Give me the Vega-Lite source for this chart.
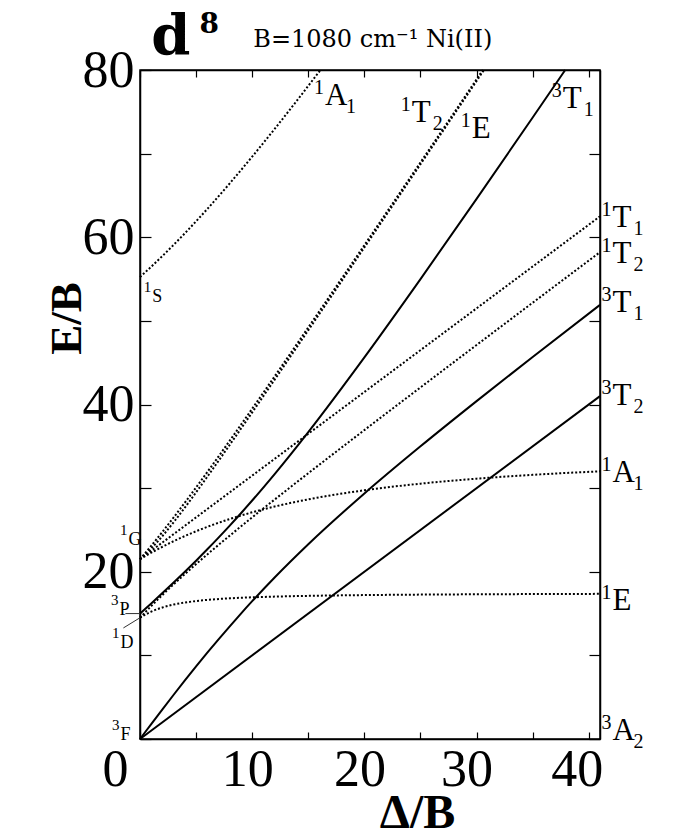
{
  "$schema": "https://vega.github.io/schema/vega-lite/v6.json",
  "width": 460,
  "height": 669,
  "autosize": {"type": "none"},
  "padding": {"left": 140, "top": 70, "right": 79, "bottom": 100},
  "background": "white",
  "config": {
    "font": "Liberation Serif",
    "view": {"stroke": "black", "strokeWidth": 1.5},
    "axis": {"domainColor": "black", "domainWidth": 1.5, "tickColor": "black", "tickWidth": 1.2, "grid": false, "labelColor": "black", "titleColor": "black", "labelFont": "Liberation Serif", "titleFont": "Liberation Serif"}
  },
  "datasets": {
    "curves": [
      {"state": "3T2", "m": 3, "x": 0, "y": 0}, {"state": "3T2", "m": 3, "x": 41, "y": 41},
      {"state": "3T1a", "m": 3, "x": 0, "y": 0}, {"state": "3T1a", "m": 3, "x": 0.5, "y": 0.897}, {"state": "3T1a", "m": 3, "x": 1, "y": 1.789}, {"state": "3T1a", "m": 3, "x": 2, "y": 3.554}, {"state": "3T1a", "m": 3, "x": 3, "y": 5.292}, {"state": "3T1a", "m": 3, "x": 4, "y": 7}, {"state": "3T1a", "m": 3, "x": 5, "y": 8.676}, {"state": "3T1a", "m": 3, "x": 6, "y": 10.315}, {"state": "3T1a", "m": 3, "x": 7, "y": 11.917}, {"state": "3T1a", "m": 3, "x": 8, "y": 13.479}, {"state": "3T1a", "m": 3, "x": 9, "y": 15}, {"state": "3T1a", "m": 3, "x": 10, "y": 16.479}, {"state": "3T1a", "m": 3, "x": 12, "y": 19.315}, {"state": "3T1a", "m": 3, "x": 15, "y": 23.292}, {"state": "3T1a", "m": 3, "x": 20, "y": 29.361}, {"state": "3T1a", "m": 3, "x": 25, "y": 35}, {"state": "3T1a", "m": 3, "x": 30, "y": 40.407}, {"state": "3T1a", "m": 3, "x": 35, "y": 45.682}, {"state": "3T1a", "m": 3, "x": 41, "y": 51.912},
      {"state": "3T1b", "m": 3, "x": 0, "y": 15}, {"state": "3T1b", "m": 3, "x": 0.5, "y": 15.603}, {"state": "3T1b", "m": 3, "x": 1, "y": 16.211}, {"state": "3T1b", "m": 3, "x": 2, "y": 17.446}, {"state": "3T1b", "m": 3, "x": 3, "y": 18.708}, {"state": "3T1b", "m": 3, "x": 4, "y": 20}, {"state": "3T1b", "m": 3, "x": 5, "y": 21.325}, {"state": "3T1b", "m": 3, "x": 6, "y": 22.685}, {"state": "3T1b", "m": 3, "x": 7, "y": 24.083}, {"state": "3T1b", "m": 3, "x": 8, "y": 25.521}, {"state": "3T1b", "m": 3, "x": 9, "y": 27}, {"state": "3T1b", "m": 3, "x": 10, "y": 28.521}, {"state": "3T1b", "m": 3, "x": 12, "y": 31.685}, {"state": "3T1b", "m": 3, "x": 15, "y": 36.708}, {"state": "3T1b", "m": 3, "x": 20, "y": 45.64}, {"state": "3T1b", "m": 3, "x": 25, "y": 55}, {"state": "3T1b", "m": 3, "x": 30, "y": 64.593}, {"state": "3T1b", "m": 3, "x": 35, "y": 74.318}, {"state": "3T1b", "m": 3, "x": 37.9, "y": 80},
      {"state": "1Ea", "m": 1, "x": 0, "y": 14.5}, {"state": "1Ea", "m": 1, "x": 0.5, "y": 14.894}, {"state": "1Ea", "m": 1, "x": 1, "y": 15.225}, {"state": "1Ea", "m": 1, "x": 2, "y": 15.728}, {"state": "1Ea", "m": 1, "x": 3, "y": 16.076}, {"state": "1Ea", "m": 1, "x": 4, "y": 16.321}, {"state": "1Ea", "m": 1, "x": 5, "y": 16.5}, {"state": "1Ea", "m": 1, "x": 6, "y": 16.635}, {"state": "1Ea", "m": 1, "x": 8, "y": 16.821}, {"state": "1Ea", "m": 1, "x": 10, "y": 16.943}, {"state": "1Ea", "m": 1, "x": 12, "y": 17.029}, {"state": "1Ea", "m": 1, "x": 15, "y": 17.117}, {"state": "1Ea", "m": 1, "x": 20, "y": 17.209}, {"state": "1Ea", "m": 1, "x": 25, "y": 17.266}, {"state": "1Ea", "m": 1, "x": 30, "y": 17.304}, {"state": "1Ea", "m": 1, "x": 35, "y": 17.331}, {"state": "1Ea", "m": 1, "x": 41, "y": 17.356},
      {"state": "1Eb", "m": 1, "x": 0, "y": 21.5}, {"state": "1Eb", "m": 1, "x": 1, "y": 22.775}, {"state": "1Eb", "m": 1, "x": 2, "y": 24.272}, {"state": "1Eb", "m": 1, "x": 3, "y": 25.924}, {"state": "1Eb", "m": 1, "x": 4, "y": 27.679}, {"state": "1Eb", "m": 1, "x": 5, "y": 29.5}, {"state": "1Eb", "m": 1, "x": 6, "y": 31.365}, {"state": "1Eb", "m": 1, "x": 8, "y": 35.179}, {"state": "1Eb", "m": 1, "x": 10, "y": 39.057}, {"state": "1Eb", "m": 1, "x": 12, "y": 42.971}, {"state": "1Eb", "m": 1, "x": 15, "y": 48.883}, {"state": "1Eb", "m": 1, "x": 20, "y": 58.791}, {"state": "1Eb", "m": 1, "x": 25, "y": 68.734}, {"state": "1Eb", "m": 1, "x": 30, "y": 78.696}, {"state": "1Eb", "m": 1, "x": 30.65, "y": 80},
      {"state": "1T2a", "m": 1, "x": 0, "y": 14.5}, {"state": "1T2a", "m": 1, "x": 0.5, "y": 15.206}, {"state": "1T2a", "m": 1, "x": 1, "y": 15.894}, {"state": "1T2a", "m": 1, "x": 2, "y": 17.225}, {"state": "1T2a", "m": 1, "x": 3, "y": 18.5}, {"state": "1T2a", "m": 1, "x": 4, "y": 19.728}, {"state": "1T2a", "m": 1, "x": 5, "y": 20.917}, {"state": "1T2a", "m": 1, "x": 6, "y": 22.076}, {"state": "1T2a", "m": 1, "x": 8, "y": 24.321}, {"state": "1T2a", "m": 1, "x": 10, "y": 26.5}, {"state": "1T2a", "m": 1, "x": 12, "y": 28.635}, {"state": "1T2a", "m": 1, "x": 15, "y": 31.782}, {"state": "1T2a", "m": 1, "x": 20, "y": 36.943}, {"state": "1T2a", "m": 1, "x": 25, "y": 42.046}, {"state": "1T2a", "m": 1, "x": 30, "y": 47.117}, {"state": "1T2a", "m": 1, "x": 35, "y": 52.17}, {"state": "1T2a", "m": 1, "x": 41, "y": 58.216},
      {"state": "1T2b", "m": 1, "x": 0, "y": 21.5}, {"state": "1T2b", "m": 1, "x": 1, "y": 23.106}, {"state": "1T2b", "m": 1, "x": 2, "y": 24.775}, {"state": "1T2b", "m": 1, "x": 3, "y": 26.5}, {"state": "1T2b", "m": 1, "x": 4, "y": 28.272}, {"state": "1T2b", "m": 1, "x": 5, "y": 30.083}, {"state": "1T2b", "m": 1, "x": 6, "y": 31.924}, {"state": "1T2b", "m": 1, "x": 8, "y": 35.679}, {"state": "1T2b", "m": 1, "x": 10, "y": 39.5}, {"state": "1T2b", "m": 1, "x": 12, "y": 43.365}, {"state": "1T2b", "m": 1, "x": 15, "y": 49.218}, {"state": "1T2b", "m": 1, "x": 20, "y": 59.057}, {"state": "1T2b", "m": 1, "x": 25, "y": 68.954}, {"state": "1T2b", "m": 1, "x": 30, "y": 78.883}, {"state": "1T2b", "m": 1, "x": 30.56, "y": 80},
      {"state": "1T1", "m": 1, "x": 0, "y": 21.5}, {"state": "1T1", "m": 1, "x": 41, "y": 62.5},
      {"state": "1A1a", "m": 1, "x": 0, "y": 21.5}, {"state": "1A1a", "m": 1, "x": 0.5, "y": 21.893}, {"state": "1A1a", "m": 1, "x": 1, "y": 22.272}, {"state": "1A1a", "m": 1, "x": 2, "y": 22.989}, {"state": "1A1a", "m": 1, "x": 3, "y": 23.654}, {"state": "1A1a", "m": 1, "x": 4, "y": 24.271}, {"state": "1A1a", "m": 1, "x": 5, "y": 24.841}, {"state": "1A1a", "m": 1, "x": 6, "y": 25.368}, {"state": "1A1a", "m": 1, "x": 8, "y": 26.306}, {"state": "1A1a", "m": 1, "x": 10, "y": 27.108}, {"state": "1A1a", "m": 1, "x": 12, "y": 27.797}, {"state": "1A1a", "m": 1, "x": 15, "y": 28.656}, {"state": "1A1a", "m": 1, "x": 20, "y": 29.743}, {"state": "1A1a", "m": 1, "x": 25, "y": 30.534}, {"state": "1A1a", "m": 1, "x": 30, "y": 31.129}, {"state": "1A1a", "m": 1, "x": 35, "y": 31.59}, {"state": "1A1a", "m": 1, "x": 41, "y": 32.009},
      {"state": "1A1b", "m": 1, "x": 0, "y": 55.25}, {"state": "1A1b", "m": 1, "x": 1, "y": 56.478}, {"state": "1A1b", "m": 1, "x": 2, "y": 57.761}, {"state": "1A1b", "m": 1, "x": 3, "y": 59.096}, {"state": "1A1b", "m": 1, "x": 4, "y": 60.479}, {"state": "1A1b", "m": 1, "x": 5, "y": 61.909}, {"state": "1A1b", "m": 1, "x": 6, "y": 63.382}, {"state": "1A1b", "m": 1, "x": 8, "y": 66.444}, {"state": "1A1b", "m": 1, "x": 10, "y": 69.642}, {"state": "1A1b", "m": 1, "x": 12, "y": 72.953}, {"state": "1A1b", "m": 1, "x": 14, "y": 76.36}, {"state": "1A1b", "m": 1, "x": 16, "y": 79.846}, {"state": "1A1b", "m": 1, "x": 16.09, "y": 80}
    ],
    "labels": [
      {"main": "T", "sup": "1", "sub": "1", "x": 42.12, "y": 61.24, "g": "big"},
      {"main": "T", "sup": "1", "sub": "2", "x": 42.12, "y": 56.94, "g": "big"},
      {"main": "T", "sup": "3", "sub": "1", "x": 42.12, "y": 51.08, "g": "big"},
      {"main": "T", "sup": "3", "sub": "2", "x": 42.12, "y": 39.95, "g": "big"},
      {"main": "A", "sup": "1", "sub": "1", "x": 42.12, "y": 30.74, "g": "big"},
      {"main": "E", "sup": "1", "sub": "", "x": 42.12, "y": 15.43, "g": "big"},
      {"main": "A", "sup": "3", "sub": "2", "x": 42.12, "y": -0.12, "g": "big"},
      {"main": "A", "sup": "1", "sub": "1", "x": 16.49, "y": 75.84, "g": "big"},
      {"main": "T", "sup": "1", "sub": "2", "x": 24.23, "y": 73.8, "g": "big"},
      {"main": "E", "sup": "1", "sub": "", "x": 29.57, "y": 71.89, "g": "big"},
      {"main": "T", "sup": "3", "sub": "1", "x": 37.67, "y": 75.48, "g": "big"},
      {"main": "F", "sup": "3", "sub": "", "x": -1.74, "y": -0.12, "g": "small"},
      {"main": "P", "sup": "3", "sub": "", "x": -1.83, "y": 14.83, "g": "small"},
      {"main": "D", "sup": "1", "sub": "", "x": -1.74, "y": 10.89, "g": "small"},
      {"main": "G", "sup": "1", "sub": "", "x": -1.03, "y": 23.21, "g": "small"},
      {"main": "S", "sup": "1", "sub": "", "x": 1.1, "y": 52.27, "g": "small"}
    ],
    "conn": [
      {"id": "P", "x": -1.3, "y": 15}, {"id": "P", "x": 0, "y": 15},
      {"id": "D", "x": -1.48, "y": 13.28}, {"id": "D", "x": 0, "y": 14.5}
    ],
    "heads": [
      {"t": "d", "k": "d", "x": 1.0, "y": 81.8},
      {"t": "8", "k": "8", "x": 5.3, "y": 84.45},
      {"t": "B=1080 cm⁻¹ Ni(II)", "k": "B", "x": 10.1, "y": 82.78}
    ]
  },
  "layer": [
    {
      "data": {"name": "curves"},
      "transform": [{"filter": "datum.m == 3"}],
      "mark": {"type": "line", "color": "black", "strokeWidth": 2, "interpolate": "monotone"},
      "encoding": {
        "x": {"field": "x", "type": "quantitative", "scale": {"domain": [0, 41], "nice": false},
          "axis": {"orient": "bottom", "values": [0, 5, 10, 15, 20, 25, 30, 35, 40], "labelExpr": "datum.value % 10 == 0 ? datum.label : ''", "tickSize": -7, "labelPadding": 12, "labelFontSize": 52, "labelFlush": false, "labelOverlap": false,
            "labelOffset": {"condition": [{"test": "datum.value == 0", "value": -25}, {"test": "datum.value == 30", "value": -10}, {"test": "datum.value == 40", "value": -12}], "value": -5},
            "title": "Δ/B", "titleFontSize": 48, "titleFontWeight": "bold", "titleX": 277, "titleY": 88, "titleAlign": "center", "titleBaseline": "alphabetic"}},
        "y": {"field": "y", "type": "quantitative", "scale": {"domain": [0, 80], "nice": false},
          "axis": {"orient": "left", "values": [0, 10, 20, 30, 40, 50, 60, 70, 80], "labelExpr": "datum.value > 0 && datum.value % 20 == 0 ? datum.label : ''", "tickSize": -11, "labelPadding": 17, "labelFontSize": 52, "labelBaseline": "middle", "labelFlush": false, "labelOverlap": false, "title": "E/B", "titleFontSize": 45, "titleFontWeight": "bold", "titleAngle": -90, "titleX": -60, "titleY": 248, "titleAlign": "center", "titleBaseline": "alphabetic"}},
        "detail": {"field": "state"}
      }
    },
    {
      "data": {"name": "curves"},
      "transform": [{"filter": "datum.m == 1"}],
      "mark": {"type": "line", "color": "black", "strokeWidth": 2, "strokeDash": [2, 2], "interpolate": "monotone"},
      "encoding": {
        "x": {"field": "x", "type": "quantitative", "axis": {"orient": "top", "values": [0, 5, 10, 15, 20, 25, 30, 35, 40], "labels": false, "tickSize": -7, "title": null}},
        "y": {"field": "y", "type": "quantitative", "axis": {"orient": "right", "values": [0, 10, 20, 30, 40, 50, 60, 70, 80], "labels": false, "tickSize": -11, "title": null}},
        "detail": {"field": "state"}
      }
    },
    {
      "data": {"name": "conn"},
      "mark": {"type": "line", "color": "#333333", "strokeWidth": 1},
      "encoding": {
        "x": {"field": "x", "type": "quantitative", "axis": null},
        "y": {"field": "y", "type": "quantitative", "axis": null},
        "detail": {"field": "id"}
      }
    },
    {
      "data": {"name": "labels"},
      "transform": [{"filter": "datum.g == 'big'"}],
      "mark": {"type": "text", "align": "left", "baseline": "alphabetic", "fontSize": 31, "font": "Liberation Serif", "color": "black"},
      "encoding": {"x": {"field": "x", "type": "quantitative", "axis": null}, "y": {"field": "y", "type": "quantitative", "axis": null}, "text": {"field": "main"}}
    },
    {
      "data": {"name": "labels"},
      "transform": [{"filter": "datum.g == 'big'"}],
      "mark": {"type": "text", "align": "right", "baseline": "alphabetic", "fontSize": 20, "dx": -1, "dy": -11, "font": "Liberation Serif", "color": "black"},
      "encoding": {"x": {"field": "x", "type": "quantitative", "axis": null}, "y": {"field": "y", "type": "quantitative", "axis": null}, "text": {"field": "sup"}}
    },
    {
      "data": {"name": "labels"},
      "transform": [{"filter": "datum.g == 'big'"}],
      "mark": {"type": "text", "align": "left", "baseline": "alphabetic", "fontSize": 20, "dx": 21, "dy": 8, "font": "Liberation Serif", "color": "black"},
      "encoding": {"x": {"field": "x", "type": "quantitative", "axis": null}, "y": {"field": "y", "type": "quantitative", "axis": null}, "text": {"field": "sub"}}
    },
    {
      "data": {"name": "labels"},
      "transform": [{"filter": "datum.g == 'small'"}],
      "mark": {"type": "text", "align": "left", "baseline": "alphabetic", "fontSize": 18, "font": "Liberation Serif", "color": "black"},
      "encoding": {"x": {"field": "x", "type": "quantitative", "axis": null}, "y": {"field": "y", "type": "quantitative", "axis": null}, "text": {"field": "main"}}
    },
    {
      "data": {"name": "labels"},
      "transform": [{"filter": "datum.g == 'small'"}],
      "mark": {"type": "text", "align": "right", "baseline": "alphabetic", "fontSize": 15, "dx": -1, "dy": -10, "font": "Liberation Serif", "color": "black"},
      "encoding": {"x": {"field": "x", "type": "quantitative", "axis": null}, "y": {"field": "y", "type": "quantitative", "axis": null}, "text": {"field": "sup"}}
    },
    {
      "data": {"name": "heads"},
      "transform": [{"filter": "datum.k == 'd'"}],
      "mark": {"type": "text", "align": "left", "baseline": "alphabetic", "fontSize": 56, "fontWeight": "bold", "font": "DejaVu Serif", "color": "black"},
      "encoding": {"x": {"field": "x", "type": "quantitative", "axis": null}, "y": {"field": "y", "type": "quantitative", "axis": null}, "text": {"field": "t"}}
    },
    {
      "data": {"name": "heads"},
      "transform": [{"filter": "datum.k == '8'"}],
      "mark": {"type": "text", "align": "left", "baseline": "alphabetic", "fontSize": 28, "fontWeight": "bold", "font": "DejaVu Serif", "color": "black"},
      "encoding": {"x": {"field": "x", "type": "quantitative", "axis": null}, "y": {"field": "y", "type": "quantitative", "axis": null}, "text": {"field": "t"}}
    },
    {
      "data": {"name": "heads"},
      "transform": [{"filter": "datum.k == 'B'"}],
      "mark": {"type": "text", "align": "left", "baseline": "alphabetic", "fontSize": 24, "font": "DejaVu Serif", "color": "black"},
      "encoding": {"x": {"field": "x", "type": "quantitative", "axis": null}, "y": {"field": "y", "type": "quantitative", "axis": null}, "text": {"field": "t"}}
    }
  ]
}
